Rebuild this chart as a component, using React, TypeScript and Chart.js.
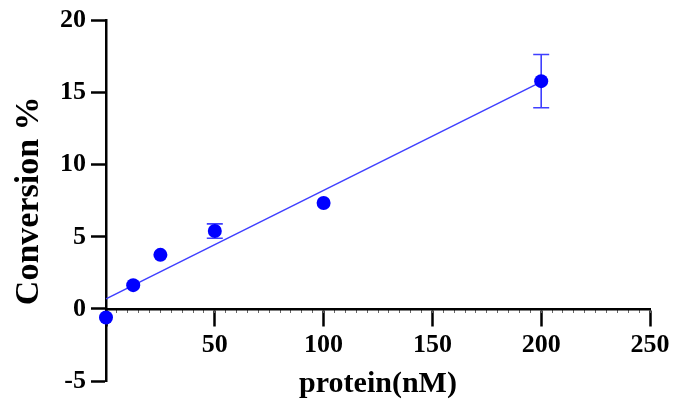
import React, { useEffect, useRef } from "react";
import { Chart, registerables } from "chart.js";

Chart.register(...registerables);

// ---- data ----
const proteinNM = [0, 12.5, 25, 50, 100, 200];
const conversion = [-0.6, 1.65, 3.75, 5.4, 7.35, 15.8];
const conversionErr = [0, 0, 0, 0.5, 0, 1.85];
const fitX = [0, 200];
const fitY = [0.7, 15.75];
const xTickLabels = ["50", "100", "150", "200", "250"];
const yTickLabels = ["-5", "0", "5", "10", "15", "20"];
const xTitle = "protein(nM)";
const yTitle = "Conversion %";

const FONT = "'Liberation Serif', 'Times New Roman', serif";
const POINT_BLUE = "#0000ff";
const LINE_BLUE = "#3f3fff";

const errorBarPlugin = {
  id: "errorBars",
  beforeDatasetsDraw(chart: any) {
    const xs = chart.scales.x;
    const ys = chart.scales.y;
    const ctx = chart.ctx;
    ctx.save();
    ctx.strokeStyle = LINE_BLUE;
    ctx.lineWidth = 1.6;
    for (let i = 0; i < proteinNM.length; i++) {
      const e = conversionErr[i];
      if (!e) continue;
      const px = xs.getPixelForValue(proteinNM[i]);
      const top = ys.getPixelForValue(conversion[i] + e);
      const bot = ys.getPixelForValue(conversion[i] - e);
      ctx.beginPath();
      ctx.moveTo(px, top);
      ctx.lineTo(px, bot);
      ctx.moveTo(px - 8, top);
      ctx.lineTo(px + 8, top);
      ctx.moveTo(px - 8, bot);
      ctx.lineTo(px + 8, bot);
      ctx.stroke();
    }
    ctx.restore();
  },
};

export default function App() {
  const ref = useRef<HTMLCanvasElement>(null);

  useEffect(() => {
    if (!ref.current) return;
    const chart = new Chart(ref.current, {
      type: "scatter",
      data: {
        datasets: [
          {
            type: "scatter",
            data: proteinNM.map((x, i) => ({ x, y: conversion[i] })),
            pointRadius: 7,
            pointHoverRadius: 7,
            pointBackgroundColor: POINT_BLUE,
            pointBorderWidth: 0,
            order: 0,
            clip: false as any,
          },
          {
            type: "line",
            data: fitX.map((x, i) => ({ x, y: fitY[i] })),
            borderColor: LINE_BLUE,
            borderWidth: 1.5,
            pointRadius: 0,
            fill: false,
            order: 1,
            clip: false as any,
          },
        ],
      },
      options: {
        responsive: false,
        animation: false,
        layout: { padding: { left: 9, top: 18.5, right: 49, bottom: 0 } },
        plugins: { legend: { display: false }, tooltip: { enabled: false } },
        scales: {
          x: {
            type: "linear",
            position: { y: 0 } as any,
            min: 0,
            max: 250,
            afterBuildTicks: (s: any) => {
              s.ticks = [0, 50, 100, 150, 200, 250].map((v) => ({ value: v }));
            },
            ticks: {
              color: "#000",
              font: { family: FONT, size: 26, weight: "bold" },
              padding: 5,
              maxRotation: 0,
              autoSkip: false,
              callback: (v: any) => {
                const s = String(v);
                return xTickLabels.includes(s) ? s : "";
              },
            },
            grid: {
              drawOnChartArea: false,
              drawTicks: true,
              tickLength: 16,
              tickWidth: 2.5,
              tickColor: "#000",
            },
            border: { display: true, color: "#000", width: 2.5 },
          },
          xMinor: {
            type: "linear",
            axis: "x",
            position: { y: 0 } as any,
            min: 0,
            max: 250,
            afterBuildTicks: (s: any) => {
              const t: any[] = [];
              for (let v = 0; v <= 250; v += 5) t.push({ value: v });
              s.ticks = t;
            },
            ticks: { display: false },
            grid: {
              drawOnChartArea: false,
              drawTicks: true,
              tickLength: 4,
              tickWidth: 1,
              tickColor: "#666",
            },
            border: { display: false },
          } as any,
          xTitleAxis: {
            type: "linear",
            axis: "x",
            position: "bottom",
            min: 0,
            max: 250,
            ticks: { display: false },
            grid: { display: false, drawTicks: false },
            border: { display: false },
            title: {
              display: true,
              text: xTitle,
              color: "#000",
              font: { family: FONT, size: 30, weight: "bold" },
              padding: { top: 0, bottom: 18 },
            },
            afterFit: (s: any) => {
              s.height = 39;
            },
          } as any,
          y: {
            type: "linear",
            position: "left",
            min: -5,
            max: 20,
            afterBuildTicks: (s: any) => {
              s.ticks = yTickLabels.map((v) => ({ value: Number(v) }));
            },
            ticks: {
              color: "#000",
              font: { family: FONT, size: 26, weight: "bold" },
              padding: 5,
              callback: (v: any) => String(v),
            },
            grid: {
              drawOnChartArea: false,
              drawTicks: true,
              tickLength: 15,
              tickWidth: 2.5,
              tickColor: "#000",
            },
            border: { display: true, color: "#000", width: 2.5 },
            title: {
              display: true,
              text: yTitle,
              color: "#000",
              font: { family: FONT, size: 34, weight: "bold" },
              padding: 0,
            },
            afterFit: (s: any) => {
              s.width = 97;
            },
          },
        },
      },
      plugins: [errorBarPlugin],
    } as any);
    return () => chart.destroy();
  }, []);

  return (
    <div style={{ position: "absolute", left: 0, top: 0, width: 699, height: 420, background: "#fff" }}>
      <canvas ref={ref} width={699} height={420} style={{ display: "block" }} />
    </div>
  );
}
